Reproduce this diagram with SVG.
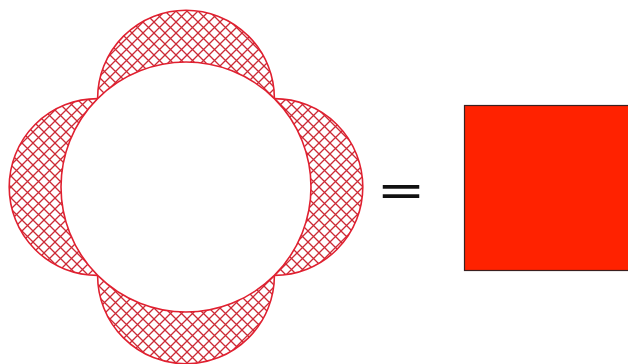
<svg xmlns="http://www.w3.org/2000/svg" width="628" height="364" viewBox="0 0 628 364">
<style>
.lune{fill:url(#hatch);stroke:#e02030;stroke-width:1.6}
.big{fill:#ffffff;stroke:#e02030;stroke-width:1.6}
.eq{font-family:"Liberation Sans",Arial,sans-serif;font-size:56px;font-weight:bold;fill:#111}
</style>
<defs>
<pattern id="hatch" patternUnits="userSpaceOnUse" width="11" height="11">
<rect width="11" height="11" fill="#ffffff"/>
<path d="M0,0L11,11M11,0L0,11M-1,10L1,12M10,-1L12,1" stroke="#cc2a36" stroke-width="1.3" fill="none"/>
</pattern>
</defs>
<rect width="628" height="364" fill="#ffffff"/>
<g id="lunes">
<circle id="lune-top" class="lune" cx="186" cy="98.6" r="88.4"/>
<circle id="lune-bottom" class="lune" cx="186" cy="275.4" r="88.4"/>
<circle id="lune-left" class="lune" cx="97.6" cy="187" r="88.4"/>
<circle id="lune-right" class="lune" cx="274.4" cy="187" r="88.4"/>
</g>
<g id="big-circle">
<circle class="big" cx="186" cy="187" r="125"/>
</g>
<g id="equals">
<text class="eq" transform="translate(401,204) scale(1.3,0.62)" text-anchor="middle">=</text>
</g>
<g id="square">
<rect x="464.5" y="105.5" width="165" height="165" fill="#ff2200" stroke="#3a2020" stroke-width="1.2"/>
</g>
</svg>
